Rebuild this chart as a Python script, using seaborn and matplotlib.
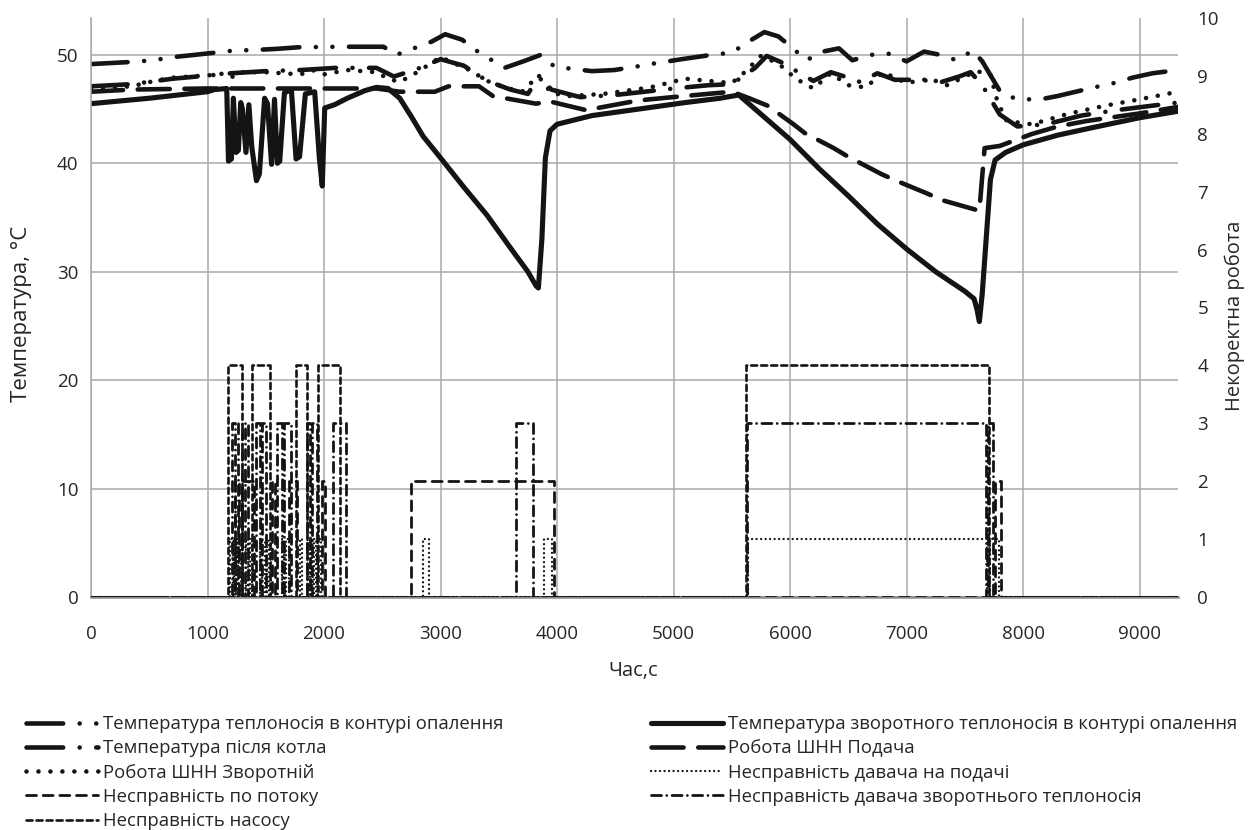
import matplotlib
matplotlib.use("Agg")
import matplotlib.pyplot as plt
import seaborn as sns
import pandas as pd

# ---------------- data ----------------
# Temperature series: (time s, value)
supply_temp = [(0, 49.15), (350, 49.35), (530, 49.5), (710, 49.8), (890, 50.0), (1230, 50.4), (1400, 50.45),
               (1590, 50.55), (1780, 50.7), (2145, 50.75), (2330, 50.75), (2510, 50.75), (2580, 50.3), (2620, 50.0),
               (2920, 51.2), (3040, 51.9), (3185, 51.4), (3320, 50.3), (3550, 48.8), (3710, 49.4), (3860, 50.0),
               (3980, 48.9), (4300, 48.5), (4490, 48.6), (4670, 48.9), (4830, 49.2), (5070, 49.6), (5325, 50.0),
               (5500, 50.2), (5640, 51.2), (5780, 52.1), (5900, 51.7), (6025, 50.6), (6140, 49.5), (6280, 50.3),
               (6420, 50.6), (6535, 49.5), (6690, 50.0), (6850, 50.1), (7000, 49.4), (7150, 50.3), (7290, 50.0),
               (7430, 49.5), (7570, 50.4), (7650, 49.4), (7810, 46.5), (7950, 45.9), (8150, 45.9), (8295, 46.2),
               (8610, 47.0), (8780, 47.4), (8940, 47.9), (9110, 48.3), (9330, 48.6)]

return_temp = [(0, 45.5), (500, 46.0), (1000, 46.6), (1060, 46.8), (1165, 46.9), (1180, 40.2), (1205, 40.4),
               (1222, 46.0), (1245, 41.0), (1265, 41.2), (1285, 45.6), (1300, 45.0), (1330, 41.0), (1355, 45.4),
               (1380, 41.5), (1420, 38.4), (1445, 39.0), (1490, 46.0), (1515, 45.5), (1550, 39.9), (1575, 45.9),
               (1600, 40.0), (1620, 40.2), (1660, 46.5), (1720, 46.8), (1760, 40.4), (1790, 40.6), (1840, 46.4),
               (1920, 46.6), (1960, 40.5), (1985, 37.9), (2006, 45.1), (2090, 45.4), (2200, 46.0), (2350, 46.7),
               (2450, 47.0), (2550, 46.9), (2650, 46.0), (2750, 44.3), (2850, 42.5), (3000, 40.5), (3200, 37.8),
               (3400, 35.2), (3600, 32.2), (3750, 30.0), (3820, 28.7), (3840, 28.5), (3870, 33.0), (3900, 40.5),
               (3940, 43.0), (4000, 43.6), (4300, 44.4), (4700, 45.0), (5100, 45.6), (5400, 46.0), (5560, 46.3),
               (5700, 45.0), (5850, 43.6), (6000, 42.2), (6250, 39.5), (6500, 37.0), (6750, 34.4), (7000, 32.1),
               (7250, 30.0), (7500, 28.2), (7580, 27.5), (7605, 26.5), (7625, 25.4), (7650, 28.0), (7690, 34.0),
               (7720, 38.5), (7760, 40.3), (7850, 41.0), (8000, 41.7), (8300, 42.6), (8600, 43.3), (9000, 44.2),
               (9330, 44.8)]

boiler_temp = [(0, 47.1), (350, 47.3), (700, 47.8), (1060, 48.15), (1200, 48.3), (1500, 48.5), (1800, 48.6),
               (2100, 48.8), (2450, 48.8), (2600, 48.0), (2800, 48.7), (3000, 49.6), (3200, 49.0), (3400, 47.6),
               (3600, 46.8), (3750, 46.4), (3850, 48.1), (3950, 46.8), (4200, 46.1), (4500, 46.3), (5000, 46.9),
               (5300, 47.2), (5500, 47.3), (5700, 48.8), (5800, 49.9), (5950, 49.2), (6100, 48.2), (6200, 47.6),
               (6350, 48.4), (6500, 47.9), (6600, 47.5), (6750, 48.3), (6900, 47.7), (7100, 47.7), (7300, 47.5),
               (7450, 48.0), (7550, 48.4), (7650, 47.2), (7800, 44.5), (7950, 43.4), (8200, 43.6), (8500, 44.4),
               (8800, 44.9), (9100, 45.3), (9330, 45.6)]

pump_supply = [(0, 46.6), (350, 46.8), (1000, 46.9), (1200, 46.9), (1600, 46.9), (2000, 46.9), (2450, 46.9),
               (2650, 46.6), (2950, 46.6), (3070, 47.1), (3330, 47.1), (3450, 46.2), (3820, 45.5), (3940, 45.7),
               (4250, 44.9), (4700, 45.8), (5090, 46.2), (5500, 46.6), (5650, 46.0), (5810, 45.3), (6030, 43.6),
               (6125, 42.8), (6375, 41.4), (6500, 40.6), (6785, 39.0), (6910, 38.4), (7180, 37.2), (7305, 36.6),
               (7600, 35.7), (7625, 35.6), (7645, 38.2), (7670, 41.4), (7800, 41.6), (8075, 42.7), (8300, 43.4),
               (8545, 43.9), (9000, 44.6), (9330, 45.2)]

pump_return = [(0, 46.9), (350, 47.1), (525, 47.55), (700, 47.9), (1000, 48.1), (1160, 48.3), (1230, 47.9),
               (1300, 48.4), (1500, 48.4), (1800, 48.2), (1900, 48.6), (2000, 48.2), (2200, 48.6), (2450, 48.4),
               (2550, 47.8), (2650, 47.5), (2800, 48.4), (3000, 49.8), (3100, 49.3), (3250, 48.6), (3400, 47.6),
               (3550, 47.0), (3700, 46.6), (3760, 47.3), (3850, 47.9), (3950, 46.5), (4100, 46.2), (4400, 46.4),
               (4800, 47.0), (5100, 47.8), (5500, 47.4), (5600, 48.3), (5750, 49.9), (5900, 49.2), (6050, 47.8),
               (6200, 46.9), (6350, 48.3), (6500, 47.2), (6650, 47.0), (6800, 48.4), (7000, 47.4), (7200, 47.8),
               (7350, 47.2), (7500, 48.0), (7600, 48.5), (7720, 48.2), (7780, 45.7), (7860, 43.9), (8075, 43.6),
               (8400, 44.6), (8700, 45.3), (9000, 45.9), (9330, 46.6)]

# Fault intervals (start s, end s) and fault code (right axis)
fault_sensor_supply = [(1190, 1215), (1225, 1250), (1265, 1290), (1330, 1350), (1365, 1385), (1450, 1470),
                       (1490, 1510), (1525, 1545), (1640, 1660), (1675, 1700), (1790, 1810), (1880, 1900),
                       (1915, 1935), (1950, 1975), (2850, 2900), (3890, 3960), (5640, 7690), (7720, 7790)]
fault_flow = [(1240, 1270), (1300, 1400), (1550, 1580), (1700, 1770), (1980, 2010), (2750, 3970), (7760, 7810)]
fault_sensor_return = [(1210, 1240), (1260, 1300), (1320, 1345), (1420, 1450), (1470, 1500), (1600, 1640),
                       (1660, 1720), (1850, 1880), (1900, 1940), (2080, 2190), (3650, 3790), (5630, 7680),
                       (7700, 7740)]
fault_pump = [(1175, 1300), (1380, 1540), (1760, 1850), (1950, 2140), (5620, 7710)]
fault_codes = {"sensor_supply": 1, "flow": 2, "sensor_return": 3, "pump": 4}

T_END = 9330
x_ticks = list(range(0, 9001, 1000))
y_ticks_left = list(range(0, 51, 10))
y_ticks_right = list(range(0, 11))

labels = {
    "supply": "Температура теплоносія в контурі опалення",
    "return": "Температура зворотного теплоносія в контурі опалення",
    "boiler": "Температура після котла",
    "pump_supply": "Робота ШНН Подача",
    "pump_return": "Робота ШНН Зворотній",
    "sensor_supply": "Несправність давача на подачі",
    "flow": "Несправність по потоку",
    "sensor_return": "Несправність давача зворотнього теплоносія",
    "pump": "Несправність насосу",
}


def step_series(intervals, level, t_end):
    t, v = [0], [0]
    for s, e in intervals:
        t += [s, s, e, e]
        v += [0, level, level, 0]
    t.append(t_end)
    v.append(0)
    return pd.DataFrame({"t": t, "v": v})


def to_df(pairs):
    return pd.DataFrame(pairs, columns=["t", "v"])


# ---------------- style ----------------
sns.set_style("white")
FONT = ["Open Sans", "DejaVu Sans"]
plt.rcParams["font.family"] = FONT
plt.rcParams["lines.dash_capstyle"] = "round"
plt.rcParams["lines.solid_capstyle"] = "round"

INK = "#141414"
GRID = "#a9a9ad"
TXT = "#262626"

fig = plt.figure(figsize=(12.5, 8.3), dpi=100)
ax = fig.add_axes([91 / 1250, 1 - 597 / 830, (1178 - 91) / 1250, (597 - 18) / 830])
ax2 = ax.twinx()

thick = 3.3
styles = {
    "supply": dict(lw=thick, ls=(0, (8, 3.6, 0.01, 3.6, 0.01, 3.6))),
    "return": dict(lw=3.7, ls="-"),
    "boiler": dict(lw=thick, ls=(0, (8, 3.6, 0.01, 3.6))),
    "pump_supply": dict(lw=thick, ls=(0, (7, 3.2))),
    "pump_return": dict(lw=thick, ls=(0, (0.01, 2.6))),
    "sensor_supply": dict(lw=1.7, ls=(0, (0.01, 1.9))),
    "flow": dict(lw=2.0, ls=(0, (3.6, 2.4))),
    "sensor_return": dict(lw=2.0, ls=(0, (3.6, 1.9, 0.01, 1.9))),
    "pump": dict(lw=1.9, ls=(0, (2.3, 1.5))),
}

handles = {}
temp_series = [("supply", supply_temp), ("return", return_temp), ("boiler", boiler_temp),
               ("pump_supply", pump_supply), ("pump_return", pump_return)]
for key, pairs in temp_series:
    d = to_df(pairs)
    sns.lineplot(data=d, x="t", y="v", ax=ax, estimator=None, sort=False, legend=False,
                 color=INK, linewidth=styles[key]["lw"], linestyle=styles[key]["ls"])
    handles[key] = ax.lines[-1]

fault_series = [("sensor_supply", fault_sensor_supply), ("flow", fault_flow),
                ("sensor_return", fault_sensor_return), ("pump", fault_pump)]
for key, iv in fault_series:
    d = step_series(iv, fault_codes[key], T_END)
    sns.lineplot(data=d, x="t", y="v", ax=ax2, estimator=None, sort=False, legend=False,
                 color=INK, linewidth=styles[key]["lw"], linestyle=styles[key]["ls"])
    handles[key] = ax2.lines[-1]

# ---------------- axes ----------------
ax.set_xlim(0, T_END)
ax.set_ylim(0, 53.4)
ax2.set_ylim(0, 10)
ax.set_xticks(x_ticks)
ax.set_yticks(y_ticks_left)
ax2.set_yticks(y_ticks_right)
ax.grid(True, color=GRID, lw=1.1)
ax.set_axisbelow(True)
for a in (ax, ax2):
    for s in ("top", "right"):
        a.spines[s].set_visible(False)
ax2.spines["left"].set_visible(False)
ax2.spines["bottom"].set_visible(False)
ax.spines["left"].set_color(GRID)
ax.spines["left"].set_linewidth(1.1)
ax.spines["bottom"].set_color("#8a8a8a")
ax.spines["bottom"].set_linewidth(1.8)

TICK = 13.5
ax.tick_params(axis="x", length=0, pad=20, labelsize=TICK, labelcolor=TXT)
ax.tick_params(axis="y", length=0, pad=9, labelsize=TICK, labelcolor=TXT)
ax2.tick_params(axis="y", length=0, pad=14, labelsize=TICK, labelcolor=TXT)

ax.set_xlabel("Час,с", fontsize=14.5, color=TXT, family=FONT)
ax.set_ylabel("Температура, °С", fontsize=16, color=TXT, family=FONT)
ax2.set_ylabel("Некоректна робота", fontsize=14.5, color=TXT, family=FONT)
ax.xaxis.set_label_coords((633 - 91) / 1087, -(661 - 597) / 579)
ax.yaxis.set_label_coords((32 - 91) / 1087, (597 - 314) / 579)
ax2.yaxis.set_label_coords((1225 - 91) / 1087, (597 - 316) / 579)

# ---------------- legend ----------------
col1 = ["supply", "boiler", "pump_return", "flow", "pump"]
col2 = ["return", "pump_supply", "sensor_supply", "sensor_return"]
prop = dict(family=FONT, size=13.3)
common = dict(loc="upper left", frameon=False, prop=prop, handlelength=3.9, handletextpad=0.28,
              labelspacing=0.34, borderpad=0, borderaxespad=0)
leg1 = fig.legend([handles[k] for k in col1], [labels[k] for k in col1],
                  bbox_to_anchor=(26 / 1250, 1 - 715 / 830), **common)
leg2 = fig.legend([handles[k] for k in col2], [labels[k] for k in col2],
                  bbox_to_anchor=(651 / 1250, 1 - 715 / 830), **common)
for lg in (leg1, leg2):
    for t in lg.get_texts():
        t.set_color(TXT)

fig.savefig("out.png", dpi=100)
